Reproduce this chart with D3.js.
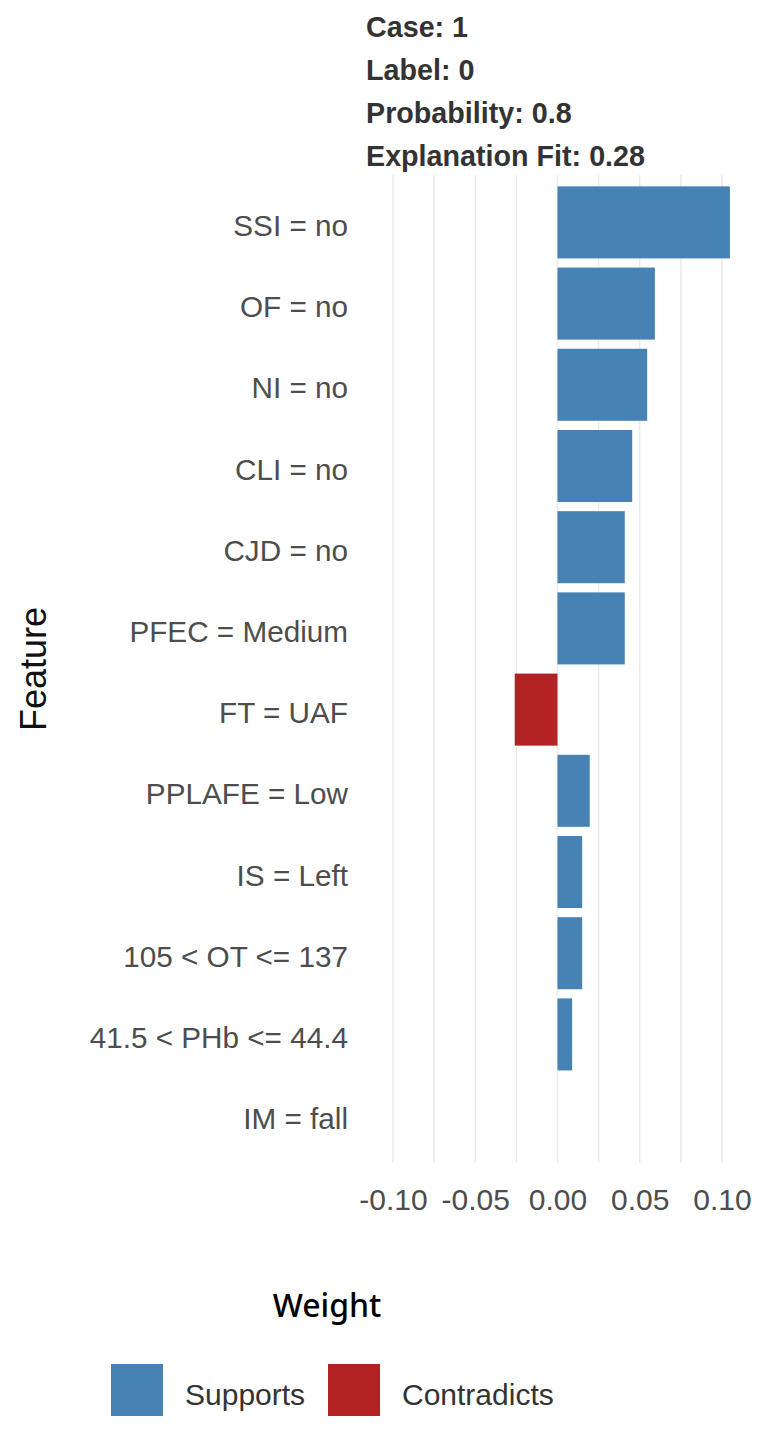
<!DOCTYPE html>
<html>
<head>
<meta charset="utf-8">
<script src="https://cdn.jsdelivr.net/npm/d3@7"></script>
<style>
  body { margin: 0; background: #fff; }
  svg { display: block; }
</style>
</head>
<body>
<div id="chart"></div>
<script>
// Data
const features = ['SSI = no', 'OF = no', 'NI = no', 'CLI = no', 'CJD = no', 'PFEC = Medium',
                  'FT = UAF', 'PPLAFE = Low', 'IS = Left', '105 < OT <= 137', '41.5 < PHb <= 44.4', 'IM = fall'];
const weights = [0.1048, 0.0592, 0.0545, 0.0454, 0.0409, 0.0409,
                 -0.026, 0.0196, 0.015, 0.015, 0.0089, 0];
const headerLines = ['Case: 1', 'Label: 0', 'Probability: 0.8', 'Explanation Fit: 0.28'];
const tickValues = [-0.10, -0.05, 0.00, 0.05, 0.10];
const gridValues = [-0.10, -0.075, -0.05, -0.025, 0, 0.025, 0.05, 0.075, 0.10];
const legendKeys = ['Supports', 'Contradicts'];
const legendColors = ['#4682B4', '#B22222'];

const width = 768, height = 1432;
const panel = { left: 370, right: 745, top: 175, bottom: 1163 };
const grey = '#4D4D4D';
const sans = '"Liberation Sans", Arial, sans-serif';

const svg = d3.select('#chart').append('svg')
    .attr('width', width)
    .attr('height', height);

// Scales
const xScale = d3.scaleLinear()
    .domain([-0.1, 0.1])
    .range([393, 722]);

const yScale = d3.scaleBand()
    .domain(features)
    .range([panel.top, panel.bottom])
    .paddingInner(0.113)
    .paddingOuter(0.14);

const colorScale = d3.scaleOrdinal()
    .domain(legendKeys)
    .range(legendColors);

// Header text
svg.append('g')
    .selectAll('text')
    .data(headerLines)
    .join('text')
    .attr('x', 366)
    .attr('y', (d, i) => 37 + i * 43)
    .attr('font-family', sans)
    .attr('font-weight', 'bold')
    .attr('font-size', 28.7)
    .attr('fill', '#333')
    .text(d => d);

// Vertical grid lines
svg.append('g')
    .selectAll('line')
    .data(gridValues)
    .join('line')
    .attr('x1', d => xScale(d))
    .attr('x2', d => xScale(d))
    .attr('y1', panel.top)
    .attr('y2', panel.bottom)
    .attr('stroke', '#EBEBEB')
    .attr('stroke-width', 1.5);

// Bars
svg.append('g')
    .selectAll('rect')
    .data(features.map((f, i) => ({ feature: f, weight: weights[i] })))
    .join('rect')
    .attr('x', d => xScale(Math.min(0, d.weight)))
    .attr('y', d => yScale(d.feature))
    .attr('width', d => Math.abs(xScale(d.weight) - xScale(0)))
    .attr('height', yScale.bandwidth())
    .attr('fill', d => colorScale(d.weight >= 0 ? 'Supports' : 'Contradicts'));

// Y axis labels
const yAxis = d3.axisLeft(yScale).tickSize(0).tickPadding(0);
const yG = svg.append('g')
    .attr('transform', 'translate(348,4)')
    .call(yAxis);
yG.select('.domain').remove();
yG.selectAll('text')
    .attr('font-family', sans)
    .attr('font-size', 29.7)
    .attr('fill', grey);

// X axis labels (plain hyphen for the minus, like the reference)
const xAxis = d3.axisBottom(xScale)
    .tickValues(tickValues)
    .tickFormat(d => d.toFixed(2))
    .tickSize(0)
    .tickPadding(0);
const xG = svg.append('g')
    .attr('transform', 'translate(0,1189)')
    .call(xAxis);
xG.select('.domain').remove();
xG.selectAll('text')
    .attr('font-family', sans)
    .attr('font-size', 30)
    .attr('fill', grey);

// Axis title
svg.append('text')
    .attr('transform', 'translate(46,' + (panel.top + panel.bottom) / 2 + ') rotate(-90)')
    .attr('text-anchor', 'middle')
    .attr('font-family', sans)
    .attr('font-size', 36)
    .attr('fill', '#111')
    .text('Feature');

// Legend
svg.append('text')
    .attr('x', 327)
    .attr('y', 1317)
    .attr('text-anchor', 'middle')
    .attr('font-family', '"Noto Sans", sans-serif')
    .attr('font-weight', 500)
    .attr('font-size', 32)
    .attr('fill', '#000')
    .text('Weight');

const legendX = [111, 328];
const legend = svg.append('g')
    .selectAll('g')
    .data(legendKeys)
    .join('g')
    .attr('transform', (d, i) => 'translate(' + legendX[i] + ',1364)');

legend.append('rect')
    .attr('width', 52)
    .attr('height', 52)
    .attr('fill', d => colorScale(d));

legend.append('text')
    .attr('x', 74)
    .attr('y', 41)
    .attr('font-family', sans)
    .attr('font-size', 30)
    .attr('fill', '#333')
    .text(d => d);
</script>
</body>
</html>
